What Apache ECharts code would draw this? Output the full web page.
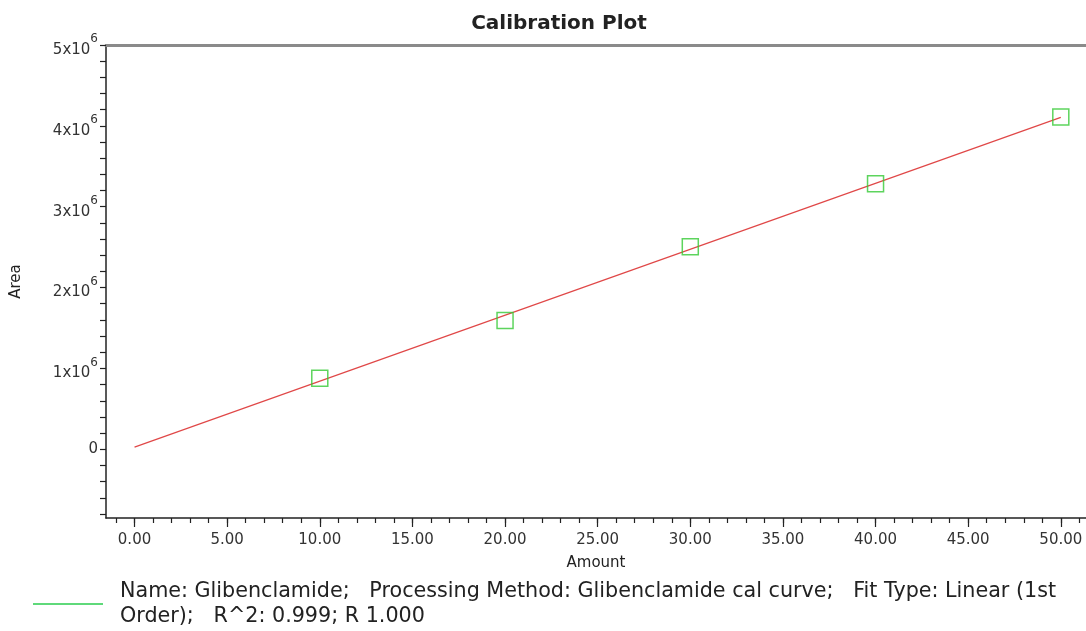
<!DOCTYPE html>
<html>
<head>
<meta charset="utf-8">
<script src="https://cdn.jsdelivr.net/npm/echarts@6/dist/echarts.min.js"></script>
<style>
  html, body { margin: 0; padding: 0; background: #fff; }
  #chart { width: 1086px; height: 631px; }
</style>
</head>
<body>
<div id="chart"></div>
<script>
// Calibration standards: amount vs. peak area
const amounts = [10, 20, 30, 40, 50];
const areas = [877000, 1593000, 2506000, 3284000, 4111000];

// Linear (1st order) fit, drawn from amount 0 to 50
const fitAmounts = [0, 50];
const fitAreas = [26000, 4105000];

// Axis ticks
const xTickValues = [0, 5, 10, 15, 20, 25, 30, 35, 40, 45, 50];
const xTickLabels = ['0.00', '5.00', '10.00', '15.00', '20.00', '25.00', '30.00', '35.00', '40.00', '45.00', '50.00'];
const yTickValues = [0, 1000000, 2000000, 3000000, 4000000, 5000000];
const yTickMantissa = ['0', '1', '2', '3', '4', '5'];

const legendLine1 = 'Name: Glibenclamide;   Processing Method: Glibenclamide cal curve;   Fit Type: Linear (1st';
const legendLine2 = 'Order);   R^2: 0.999; R 1.000';

// minor tick positions: every 1 unit on x, every 0.2e6 on y
const xMinorTicks = [];
for (let v = -1; v <= 51; v++) xMinorTicks.push(v);
const yMinorTicks = [];
for (let v = -4; v <= 25; v++) yMinorTicks.push(v * 200000);

const FONT = '"DejaVu Sans", Verdana, sans-serif';
const X_MIN = -1.54, X_MAX = 51.36;
const Y_MIN = -850000, Y_MAX = 5000000;

const chart = echarts.init(document.getElementById('chart'), null, { renderer: 'canvas' });

chart.setOption({
  animation: false,
  backgroundColor: '#ffffff',
  grid: { left: 106, right: 0, top: 45, bottom: 113, containLabel: false },
  xAxis: [
    {
      type: 'value',
      min: X_MIN,
      max: X_MAX,
      position: 'bottom',
      name: 'Amount',
      nameLocation: 'middle',
      nameGap: 38,
      nameTextStyle: { fontFamily: FONT, fontSize: 15, color: '#222' },
      axisLine: { show: true, onZero: false, lineStyle: { color: '#222', width: 1.5 } },
      axisTick: { show: true, length: 9, customValues: xTickValues, lineStyle: { color: '#222', width: 1.2 } },
      axisLabel: {
        show: true,
        customValues: xTickValues,
        margin: 15,
        fontFamily: FONT,
        fontSize: 15,
        color: '#333',
        formatter: v => xTickLabels[xTickValues.indexOf(v)] ?? ''
      },
      splitLine: { show: false }
    },
    {
      type: 'value',
      min: X_MIN,
      max: X_MAX,
      position: 'bottom',
      axisLine: { show: false, onZero: false },
      axisTick: { show: true, length: 5, customValues: xMinorTicks, lineStyle: { color: '#222', width: 1.2 } },
      axisLabel: { show: false },
      splitLine: { show: false }
    },
    {
      type: 'value',
      min: X_MIN,
      max: X_MAX,
      position: 'top',
      axisLine: { show: true, onZero: false, lineStyle: { color: '#8a8a8a', width: 3 } },
      axisTick: { show: false },
      axisLabel: { show: false },
      splitLine: { show: false }
    }
  ],
  yAxis: {
    type: 'value',
    min: Y_MIN,
    max: Y_MAX,
    name: 'Area',
    nameLocation: 'middle',
    nameGap: 82,
    nameRotate: 90,
    nameTextStyle: { fontFamily: FONT, fontSize: 15, color: '#222' },
    axisLine: { show: true, onZero: false, lineStyle: { color: '#222', width: 1.5 } },
    axisTick: { show: true, length: 6, customValues: yMinorTicks, lineStyle: { color: '#222', width: 1.2 } },
    axisLabel: {
      show: true,
      customValues: yTickValues,
      margin: 8,
      fontFamily: FONT,
      fontSize: 15,
      color: '#333',
      formatter: v => {
        const m = yTickMantissa[yTickValues.indexOf(v)];
        return m === '0' ? '{z|0}' : '{b|' + m + 'x10}{sup|6}';
      },
      rich: {
        z: { fontFamily: FONT, fontSize: 15, color: '#333', lineHeight: 15 },
        // base text sits slightly below the tick, exponent raised above it
        b: { fontFamily: FONT, fontSize: 15, color: '#333', lineHeight: 15, padding: [10, 0, 0, 0] },
        sup: { fontFamily: FONT, fontSize: 12, color: '#333', lineHeight: 12, padding: [0, 0, 12, 0] }
      }
    },
    splitLine: { show: false }
  },
  series: [
    {
      name: 'Fit',
      type: 'line',
      data: fitAmounts.map((x, i) => [x, fitAreas[i]]),
      symbol: 'none',
      lineStyle: { color: '#e04848', width: 1.2 },
      z: 2,
      silent: true
    },
    {
      name: 'Glibenclamide',
      type: 'scatter',
      data: amounts.map((x, i) => [x, areas[i]]),
      symbol: 'rect',
      symbolSize: 16,
      itemStyle: { color: 'rgba(0,0,0,0)', borderColor: '#34c934', borderWidth: 1.5 },
      z: 3
    }
  ],
  graphic: [
    {
      type: 'text',
      x: 559,
      y: 24,
      style: {
        text: 'Calibration Plot',
        fontFamily: FONT,
        fontSize: 20,
        fontWeight: 'bold',
        fill: '#222',
        align: 'center',
        verticalAlign: 'middle'
      }
    },
    {
      type: 'line',
      shape: { x1: 33, y1: 604, x2: 103, y2: 604 },
      style: { stroke: '#5fd97a', lineWidth: 2 }
    },
    {
      type: 'text',
      x: 120,
      y: 592,
      style: { text: legendLine1, fontFamily: FONT, fontSize: 20.7, fill: '#222', verticalAlign: 'middle' }
    },
    {
      type: 'text',
      x: 120,
      y: 617,
      style: { text: legendLine2, fontFamily: FONT, fontSize: 20.7, fill: '#222', verticalAlign: 'middle' }
    }
  ]
});
</script>
</body>
</html>
